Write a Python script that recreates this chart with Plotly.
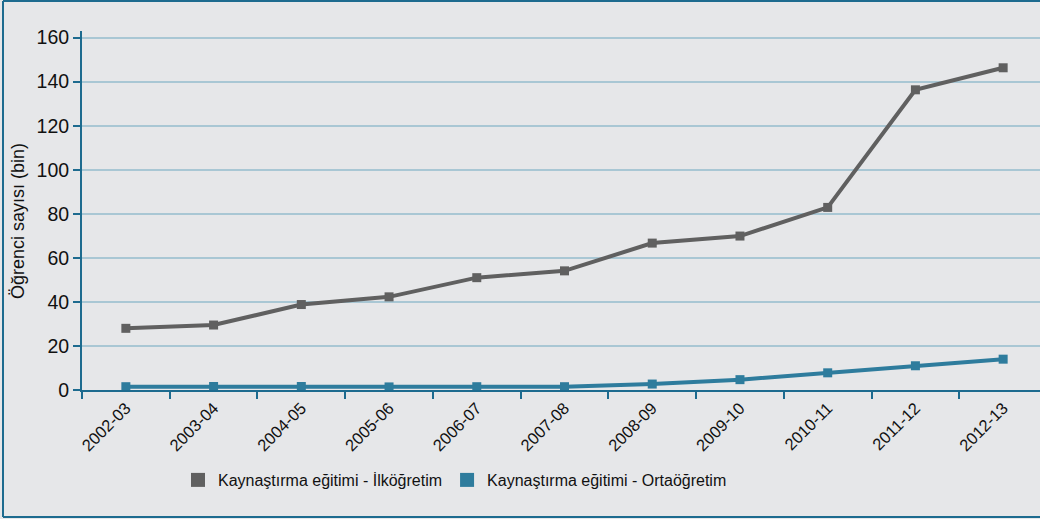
import plotly.graph_objects as go

years = ["2002-03", "2003-04", "2004-05", "2005-06", "2006-07", "2007-08",
         "2008-09", "2009-10", "2010-11", "2011-12", "2012-13"]
ilkogretim = [28.0, 29.5, 38.8, 42.3, 51.0, 54.1, 66.7, 69.9, 82.9, 136.3, 146.3]
ortaogretim = [1.5, 1.6, 1.6, 1.4, 1.5, 1.5, 2.7, 4.7, 7.8, 11.0, 14.0]
name_ilk = "Kaynaştırma eğitimi - İlköğretim"
name_orta = "Kaynaştırma eğitimi - Ortaöğretim"
y_title = "Öğrenci sayısı (bin)"
y_ticks = [0, 20, 40, 60, 80, 100, 120, 140, 160]

GRAY = "#606060"
TEAL = "#2e7c9d"
AXIS = "#1d6b8f"
BG = "#e6e7e9"
GRID = "#a9c7d4"
FONT = "Liberation Sans, Arial, sans-serif"
TXT = "#111111"

fig = go.Figure()
for name, vals, col in [(name_ilk, ilkogretim, GRAY), (name_orta, ortaogretim, TEAL)]:
    fig.add_trace(go.Scatter(x=years, y=vals, name=name, mode="lines+markers",
                             line=dict(color=col, width=4), showlegend=False,
                             marker=dict(symbol="square", size=9, color=col)))
    # legend entry: square swatch only
    fig.add_trace(go.Scatter(x=[None], y=[None], name=name, mode="markers",
                             marker=dict(symbol="square", size=14, color=col)))

W, H = 1040, 519
L, R, T, B = 82, 0, 31, 129
pw = W - L - R
ph = H - T - B

def px(x):
    return (x - L) / pw

def py(y):
    return (H - B - y) / ph

fig.update_layout(
    width=W, height=H,
    margin=dict(l=L, r=R, t=T, b=B),
    paper_bgcolor=BG, plot_bgcolor=BG,
    font=dict(family=FONT, color=TXT, size=16),
    showlegend=True,
    legend=dict(orientation="h", x=px(178), y=py(480), xanchor="left", yanchor="middle",
                font=dict(size=16, family=FONT, color=TXT),
                bgcolor="rgba(0,0,0,0)", itemsizing="trace", itemwidth=30,
                tracegroupgap=0),
    xaxis=dict(type="category", range=[-0.5, 10.42], showgrid=False, zeroline=False,
               showline=True, linecolor=AXIS, linewidth=2,
               ticks="outside", tickson="boundaries", ticklen=7, tickwidth=2, tickcolor=AXIS,
               tickangle=-45, tickfont=dict(size=16.5, family=FONT, color=TXT)),
    yaxis=dict(range=[0, 163], tickvals=y_ticks, showgrid=True, gridcolor=GRID, gridwidth=1.5,
               zeroline=False, showline=True, linecolor=AXIS, linewidth=2,
               ticks="outside", ticklen=7, tickwidth=2, tickcolor=AXIS,
               tickfont=dict(size=19.5, family=FONT, color=TXT)),
    annotations=[dict(text=y_title, textangle=-90, xref="paper", yref="paper",
                      x=px(18), y=py(221), xanchor="center", yanchor="middle",
                      showarrow=False, font=dict(size=18, family=FONT, color=TXT))],
    shapes=[
        dict(type="line", xref="paper", yref="paper", x0=px(3), x1=px(3), y0=py(1), y1=py(517),
             line=dict(color=AXIS, width=2)),
        dict(type="line", xref="paper", yref="paper", x0=px(3), x1=px(1045), y0=py(1), y1=py(1),
             line=dict(color=AXIS, width=2)),
        dict(type="line", xref="paper", yref="paper", x0=px(3), x1=px(1045), y0=py(517), y1=py(517),
             line=dict(color=AXIS, width=2)),
    ],
)

fig.write_html("out.html", config={"displayModeBar": False},
               post_script="document.body.style.margin='0';document.body.style.overflow='hidden';")
